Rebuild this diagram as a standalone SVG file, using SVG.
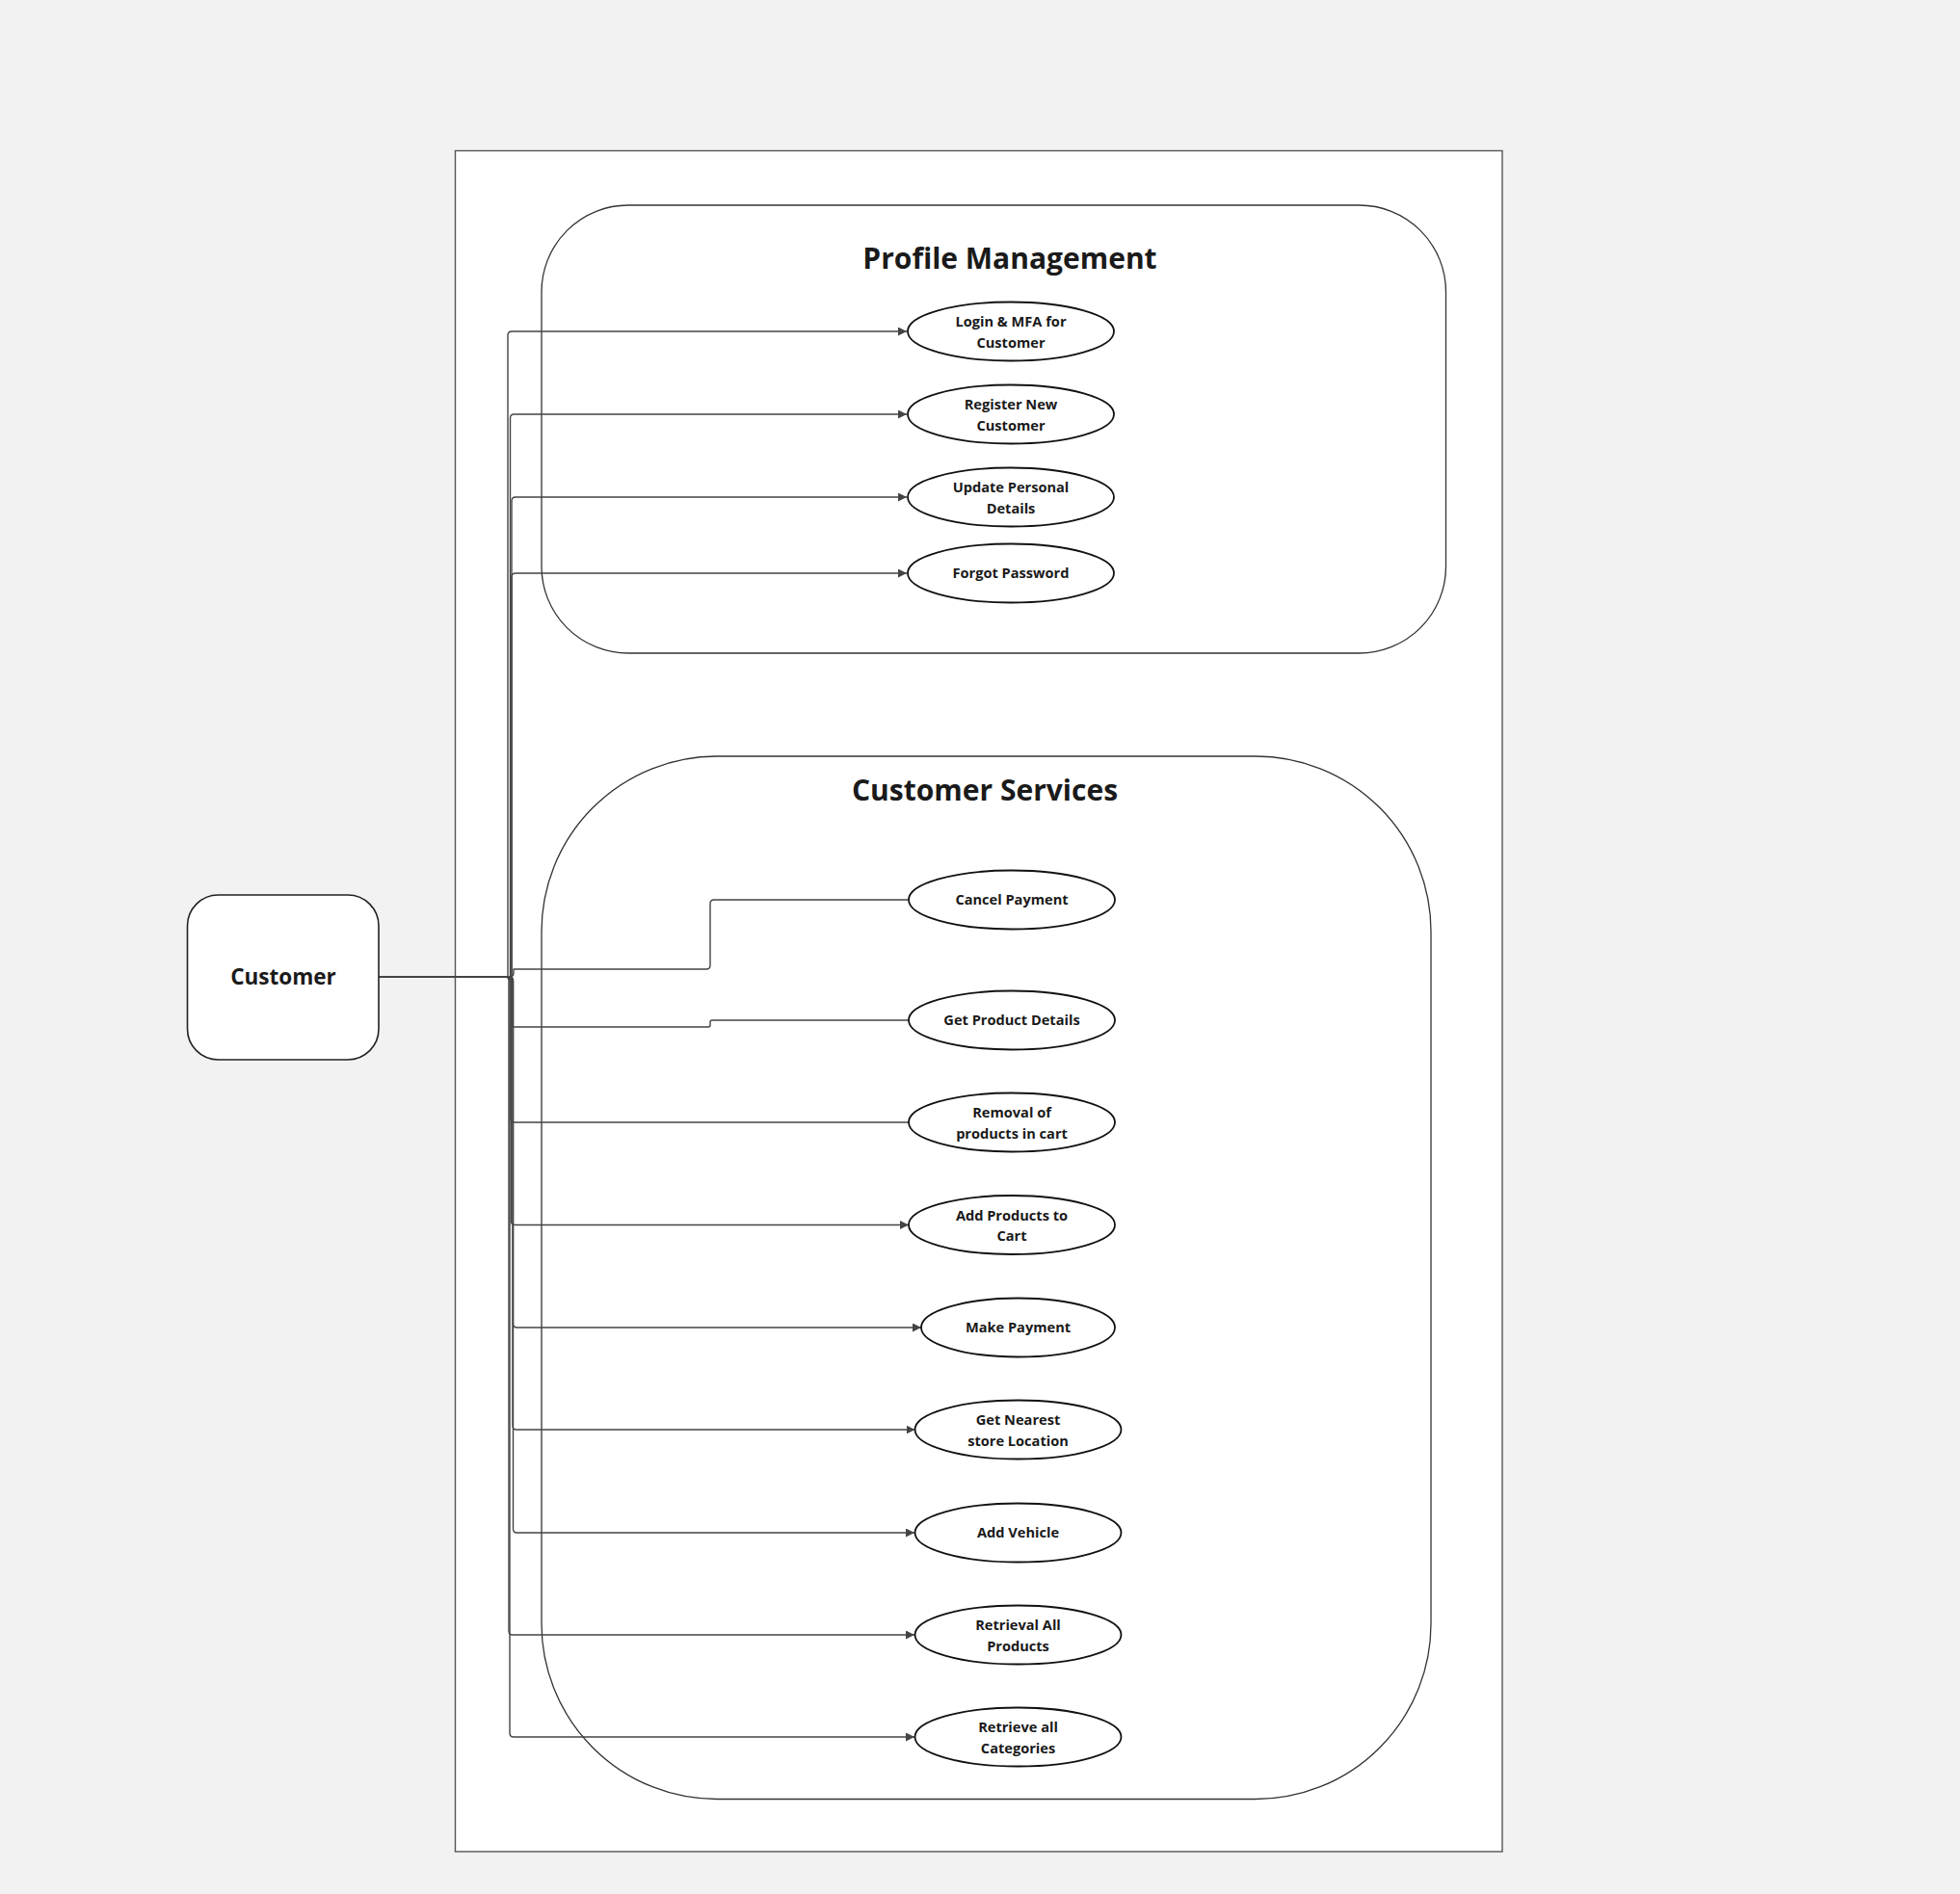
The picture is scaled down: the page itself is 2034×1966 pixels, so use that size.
<svg xmlns="http://www.w3.org/2000/svg" width="2034" height="1966" viewBox="0 0 2034 1966">
<style>
.frame{fill:#ffffff;stroke:#555555;stroke-width:1.4}
.group{fill:none;stroke:#333333;stroke-width:1.3}
.actor{fill:#ffffff;stroke:#222222;stroke-width:1.6}
.uc{fill:#ffffff;stroke:#111111;stroke-width:1.8}
.conn{fill:none;stroke:#444444;stroke-width:1.4;stroke-linejoin:round}
.title{font-family:"Open Sans","Noto Sans","Liberation Sans",sans-serif;font-weight:700;font-size:30px;fill:#1a1a1a;text-anchor:middle}
.lbl{font-family:"Open Sans","Noto Sans","Liberation Sans",sans-serif;font-weight:700;font-size:14.6px;fill:#1a1a1a;text-anchor:middle}
.actlbl{font-family:"Open Sans","Noto Sans","Liberation Sans",sans-serif;font-weight:700;font-size:22.5px;fill:#1a1a1a;text-anchor:middle}
</style>
<defs>
<marker id="arr" markerUnits="userSpaceOnUse" markerWidth="10" markerHeight="10" refX="9" refY="4.5" orient="auto">
<path d="M0,0 L9,4.5 L0,9 z" fill="#444444"/>
</marker>
</defs>
<rect x="0" y="0" width="2034" height="1966" fill="#f2f2f2"/>
<rect id="system" class="frame" x="472.5" y="156.5" width="1086.5" height="1765.5"/>
<g id="profile-management">
<rect class="group" x="562" y="213" width="938.5" height="465" rx="90" ry="90"/>
<text class="title" x="1048" y="279">Profile Management</text>
</g>
<g id="customer-services">
<rect class="group" x="562" y="785" width="923" height="1082.5" rx="182" ry="182"/>
<text class="title" x="1022" y="831">Customer Services</text>
</g>
<g id="connectors">
<path class="conn" marker-end="url(#arr)" d="M393,1014 H527 V348 Q527,344 531,344 H941"/>
<path class="conn" marker-end="url(#arr)" d="M393,1014 H529.5 V434 Q529.5,430 533.5,430 H941"/>
<path class="conn" marker-end="url(#arr)" d="M393,1014 H531 V520 Q531,516 535,516 H941"/>
<path class="conn" marker-end="url(#arr)" d="M393,1014 H531 V599 Q531,595 535,595 H941"/>
<path class="conn" d="M393,1014 H529 Q533,1014 533,1010 V1006 H733 Q737,1006 737,1002 V938 Q737,934 741,934 H943"/>
<path class="conn" d="M393,1014 H527 Q531,1014 531,1018 V1066 H735 Q737,1066 737,1064 V1061 Q737,1059 739,1059 H943"/>
<path class="conn" d="M393,1014 H526 Q530,1014 530,1018 V1161 Q530,1165 534,1165 H943"/>
<path class="conn" marker-end="url(#arr)" d="M393,1014 H526.5 Q530.5,1014 530.5,1018 V1267.5 Q530.5,1271.5 534.5,1271.5 H943"/>
<path class="conn" marker-end="url(#arr)" d="M393,1014 H528.5 Q532.5,1014 532.5,1018 V1374 Q532.5,1378 536.5,1378 H956"/>
<path class="conn" marker-end="url(#arr)" d="M393,1014 H528 Q532,1014 532,1018 V1480 Q532,1484 536,1484 H949.5"/>
<path class="conn" marker-end="url(#arr)" d="M393,1014 H528.5 Q532.5,1014 532.5,1018 V1587 Q532.5,1591 536.5,1591 H949"/>
<path class="conn" marker-end="url(#arr)" d="M393,1014 H524 Q528,1014 528,1018 V1693 Q528,1697 532,1697 H949"/>
<path class="conn" marker-end="url(#arr)" d="M393,1014 H525 Q529,1014 529,1018 V1799 Q529,1803 533,1803 H949"/>
</g>
<g id="customer">
<rect class="actor" x="194.5" y="929" width="198.5" height="171" rx="32" ry="32"/>
<text class="actlbl" x="294" y="1022">Customer</text>
</g>
<g id="uc-login">
<ellipse class="uc" cx="1049" cy="344" rx="107" ry="30.5"/>
<text class="lbl" x="1049" y="339">Login &amp; MFA for</text>
<text class="lbl" x="1049" y="360.5">Customer</text>
</g>
<g id="uc-register">
<ellipse class="uc" cx="1049" cy="430" rx="107" ry="30.5"/>
<text class="lbl" x="1049" y="425">Register New</text>
<text class="lbl" x="1049" y="446.5">Customer</text>
</g>
<g id="uc-update">
<ellipse class="uc" cx="1049" cy="516" rx="107" ry="30.5"/>
<text class="lbl" x="1049" y="511">Update Personal</text>
<text class="lbl" x="1049" y="532.5">Details</text>
</g>
<g id="uc-forgot">
<ellipse class="uc" cx="1049" cy="595" rx="107" ry="30.5"/>
<text class="lbl" x="1049" y="600">Forgot Password</text>
</g>
<g id="uc-cancel">
<ellipse class="uc" cx="1050" cy="934" rx="107" ry="30.5"/>
<text class="lbl" x="1050" y="939">Cancel Payment</text>
</g>
<g id="uc-product-details">
<ellipse class="uc" cx="1050" cy="1059" rx="107" ry="30.5"/>
<text class="lbl" x="1050" y="1064">Get Product Details</text>
</g>
<g id="uc-removal">
<ellipse class="uc" cx="1050" cy="1165" rx="107" ry="30.5"/>
<text class="lbl" x="1050" y="1160">Removal of</text>
<text class="lbl" x="1050" y="1181.5">products in cart</text>
</g>
<g id="uc-add-cart">
<ellipse class="uc" cx="1050" cy="1271.5" rx="107" ry="30.5"/>
<text class="lbl" x="1050" y="1266.5">Add Products to</text>
<text class="lbl" x="1050" y="1288">Cart</text>
</g>
<g id="uc-make-payment">
<ellipse class="uc" cx="1056.5" cy="1378" rx="100.5" ry="30.5"/>
<text class="lbl" x="1056.5" y="1383">Make Payment</text>
</g>
<g id="uc-nearest-store">
<ellipse class="uc" cx="1056.5" cy="1484" rx="107" ry="30.5"/>
<text class="lbl" x="1056.5" y="1479">Get Nearest</text>
<text class="lbl" x="1056.5" y="1500.5">store Location</text>
</g>
<g id="uc-add-vehicle">
<ellipse class="uc" cx="1056.5" cy="1591" rx="107" ry="30.5"/>
<text class="lbl" x="1056.5" y="1596">Add Vehicle</text>
</g>
<g id="uc-retrieval-products">
<ellipse class="uc" cx="1056.5" cy="1697" rx="107" ry="30.5"/>
<text class="lbl" x="1056.5" y="1692">Retrieval All</text>
<text class="lbl" x="1056.5" y="1713.5">Products</text>
</g>
<g id="uc-retrieve-categories">
<ellipse class="uc" cx="1056.5" cy="1803" rx="107" ry="30.5"/>
<text class="lbl" x="1056.5" y="1798">Retrieve all</text>
<text class="lbl" x="1056.5" y="1819.5">Categories</text>
</g>
</svg>
